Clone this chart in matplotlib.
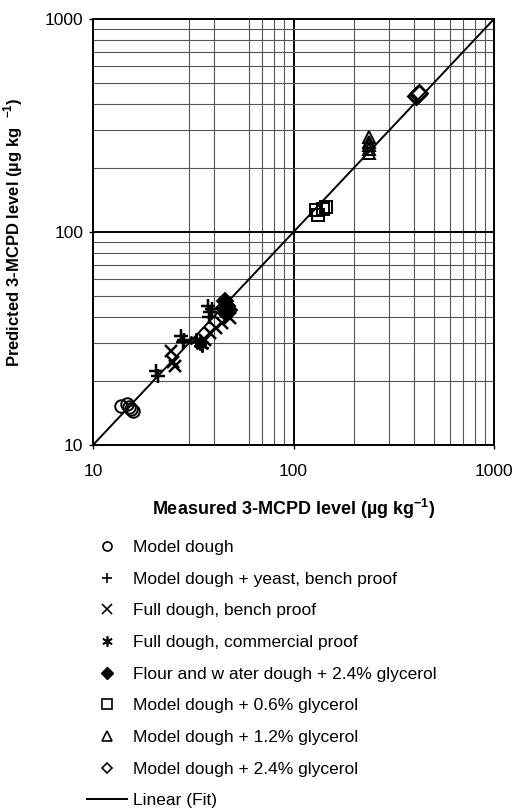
import numpy as np
import matplotlib
matplotlib.use('Agg')
from matplotlib import pyplot as plt
from matplotlib.ticker import FixedLocator, NullFormatter
from matplotlib.lines import Line2D

plt.rcParams['font.family'] = ['Liberation Sans', 'DejaVu Sans']
plt.rcParams['mathtext.fontset'] = 'custom'
plt.rcParams['mathtext.rm'] = 'Liberation Sans'
plt.rcParams['mathtext.bf'] = 'Liberation Sans:bold'

#-------------------------------------
# Data
#-------------------------------------
circ_x = [13.8, 14.8, 15.5, 15.8, 15.2]
circ_y = [15.2, 15.6, 14.8, 14.4, 15.0]

plus_x = [20.6, 21.0, 27.5, 28.5, 28.0, 37.5, 38.5, 38.0, 39.0]
plus_y = [22.3, 21.0, 32.5, 31.0, 30.5, 45.0, 42.0, 40.0, 43.5]

cross_x = [24.5, 25.5, 25.0, 36.0, 38.5, 41.0, 44.0, 48.0]
cross_y = [27.5, 23.5, 24.5, 31.0, 33.5, 35.5, 37.5, 39.5]

ast_x = [32.5, 34.0, 35.0, 45.5, 47.0]
ast_y = [31.0, 30.0, 29.5, 42.0, 44.0]

fdiam_x = [45.5, 46.5, 47.5, 46.0, 45.0]
fdiam_y = [47.5, 45.0, 43.0, 41.5, 44.0]

sq_x = [130., 133., 146., 141.]
sq_y = [127., 120., 131., 128.]

tri_x = [237., 238., 239., 238., 237.]
tri_y = [278., 266., 255., 246., 236.]

odiam_x = [410., 418., 425.]
odiam_y = [437., 443., 448.]

fit_x = [10., 1000.]
fit_y = [10., 1000.]

labels = ['Model dough',
          'Model dough + yeast, bench proof',
          'Full dough, bench proof',
          'Full dough, commercial proof',
          'Flour and w ater dough + 2.4% glycerol',
          'Model dough + 0.6% glycerol',
          'Model dough + 1.2% glycerol',
          'Model dough + 2.4% glycerol',
          'Linear (Fit)']

#-------------------------------------
# Figure
#-------------------------------------
fig = plt.figure(figsize=(5.16, 8.08), dpi=100)
ax = fig.add_axes([93/516., 1-445/808., 401/516., 426/808.])

ax.set_xscale('log')
ax.set_yscale('log')
ax.set_xlim(10, 1000)
ax.set_ylim(10, 1000)

# gridlines
ax.xaxis.set_minor_locator(FixedLocator([30, 40, 60, 70, 80, 90] + [200, 300, 400, 500, 600, 700, 800, 900]))
ax.yaxis.set_minor_locator(FixedLocator([v*d for d in (10, 100) for v in range(2, 10)]))
ax.xaxis.set_minor_formatter(NullFormatter())
ax.yaxis.set_minor_formatter(NullFormatter())
ax.grid(which='major', color='black', lw=1.4)
ax.grid(which='minor', color='#555555', lw=0.8)
ax.set_axisbelow(True)

ms = 9
mew = 1.4
k = 'black'
ax.plot(circ_x, circ_y, ls='none', marker='o', ms=ms, mfc='none', mec=k, mew=mew)
ax.plot(plus_x, plus_y, ls='none', marker='+', ms=ms+1, mec=k, mew=mew+0.4)
ax.plot(cross_x, cross_y, ls='none', marker='x', ms=ms, mec=k, mew=mew+0.4)
ax.plot(ast_x, ast_y, ls='none', marker=(6, 2, 0), ms=ms+1, mec=k, mew=mew+0.4)
ax.plot(fdiam_x, fdiam_y, ls='none', marker='D', ms=ms-1, mfc=k, mec=k, mew=mew)
ax.plot(sq_x, sq_y, ls='none', marker='s', ms=ms, mfc='none', mec=k, mew=mew)
ax.plot(tri_x, tri_y, ls='none', marker='^', ms=ms, mfc='none', mec=k, mew=mew)
ax.plot(odiam_x, odiam_y, ls='none', marker='D', ms=ms-1, mfc='white', mec=k, mew=mew+0.6)
ax.plot(fit_x, fit_y, color=k, lw=1.4)

for s in ax.spines.values():
  s.set_linewidth(1.4)
  s.set_color(k)

ax.tick_params(which='major', direction='out', length=3, width=1, labelsize=12.5, colors=k)
ax.tick_params('x', which='major', pad=11)
ax.tick_params('y', which='major', pad=4)
ax.tick_params(which='minor', length=0)
ax.set_xticks([10, 100, 1000])
ax.set_xticklabels(['10', '100', '1000'])
ax.set_yticks([10, 100, 1000])
ax.set_yticklabels(['10', '100', '1000'])

ax.set_xlabel(r'Measured 3-MCPD level (µg kg$^{\mathbf{-1}}$)', fontsize=13, fontweight='bold')
ax.set_ylabel(r'Predicted 3-MCPD level (µg kg  $^{\mathbf{-1}}$)', fontsize=12, fontweight='bold')
ax.xaxis.set_label_coords(0.5, (445-497)/426.)
ax.yaxis.set_label_coords((25-93)/401., 0.5)

#-------------------------------------
# Legend under the plot
#-------------------------------------
leg_handles = [
  Line2D([], [], ls='none', marker='o', ms=6.5, mfc='none', mec=k, mew=1.2),
  Line2D([], [], ls='none', marker='+', ms=7.5, mec=k, mew=1.2),
  Line2D([], [], ls='none', marker='x', ms=6.5, mec=k, mew=1.2),
  Line2D([], [], ls='none', marker=(6, 2, 0), ms=7.5, mec=k, mew=1.2),
  Line2D([], [], ls='none', marker='D', ms=6, mfc=k, mec=k, mew=1.0),
  Line2D([], [], ls='none', marker='s', ms=6.5, mfc='none', mec=k, mew=1.2),
  Line2D([], [], ls='none', marker='^', ms=6.5, mfc='none', mec=k, mew=1.2),
  Line2D([], [], ls='none', marker='D', ms=5.5, mfc='none', mec=k, mew=1.2),
  Line2D([], [], color=k, lw=1.4),
]
fig.legend(leg_handles, labels, loc='upper left', bbox_to_anchor=(87/516., 1-540/808.),
           frameon=False, fontsize=12.5, handlelength=2.3, handletextpad=0.35,
           labelspacing=0.95, borderpad=0, borderaxespad=0)

plt.savefig('out.png', dpi=100)
